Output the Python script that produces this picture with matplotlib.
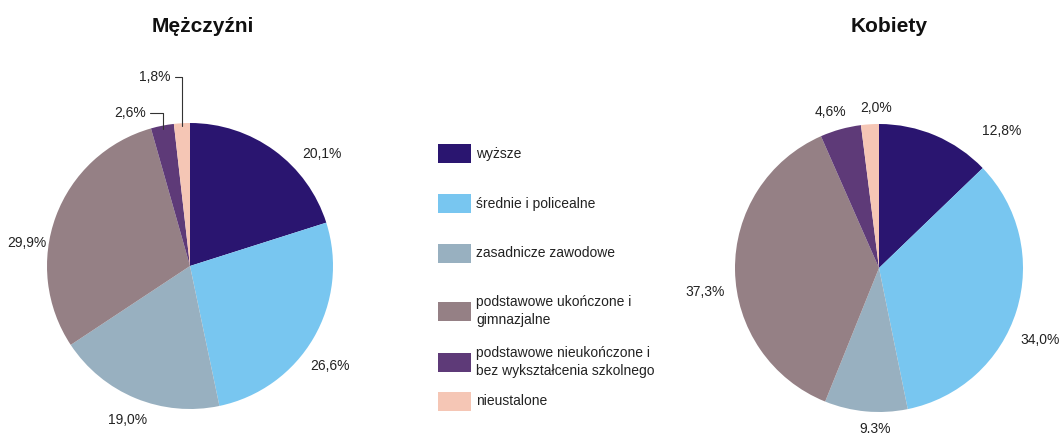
import matplotlib
matplotlib.use("Agg")
import matplotlib.pyplot as plt
import numpy as np
from matplotlib.patches import Rectangle

plt.rcParams["font.family"] = ["Liberation Sans", "DejaVu Sans"]

categories = [
    "wyższe",
    "średnie i policealne",
    "zasadnicze zawodowe",
    "podstawowe ukończone i\ngimnazjalne",
    "podstawowe nieukończone i\nbez wykształcenia szkolnego",
    "nieustalone",
]
men_values = [20.1, 26.6, 19.0, 29.9, 2.6, 1.8]
women_values = [12.8, 34.0, 9.3, 37.3, 4.6, 2.0]
men_labels = ["20,1%", "26,6%", "19,0%", "29,9%", "2,6%", "1,8%"]
women_labels = ["12,8%", "34,0%", "9.3%", "37,3%", "4,6%", "2,0%"]
colors = ["#2a1570", "#78c6f0", "#98b0c0", "#958085", "#5e3a78", "#f5c6b5"]

# label positions in pie units (radius = 1)
men_label_pos = [(0.92, 0.78), (0.98, -0.70), (-0.44, -1.08), (-1.14, 0.16), (-0.42, 1.07), (-0.245, 1.32)]
women_label_pos = [(0.85, 0.95), (1.12, -0.50), (-0.03, -1.12), (-1.21, -0.17), (-0.34, 1.08), (-0.02, 1.11)]
men_leaders = [False, False, False, False, True, True]

W, H = 1063, 436
fig = plt.figure(figsize=(W / 100, H / 100), dpi=100)


def pie_axes(cx, cy, r, lim=1.45):
    half = r * lim
    ax = fig.add_axes([(cx - half) / W, (H - cy - half) / H, 2 * half / W, 2 * half / H])
    return ax, lim


def draw_pie(cx, cy, r, values, labels, label_pos, leaders, title, title_x):
    ax, lim = pie_axes(cx, cy, r)
    wedges, _ = ax.pie(values, colors=colors, startangle=90, counterclock=False,
                       wedgeprops=dict(linewidth=0))
    ax.set_xlim(-lim, lim)
    ax.set_ylim(-lim, lim)
    ax.set_aspect("equal")
    ax.axis("off")
    for w, lab, (lx, ly), lead in zip(wedges, labels, label_pos, leaders):
        if lead:
            mid = np.deg2rad((w.theta1 + w.theta2) / 2)
            ax.annotate(lab, xy=(np.cos(mid) * 0.98, np.sin(mid) * 0.98), xytext=(lx, ly),
                        ha="center", va="center", fontsize=10, color="#222222",
                        arrowprops=dict(arrowstyle="-", color="#333333", lw=0.8,
                                        shrinkA=1, shrinkB=0,
                                        connectionstyle="angle,angleA=0,angleB=90,rad=0"))
        else:
            ax.text(lx, ly, lab, ha="center", va="center", fontsize=10, color="#222222")
    fig.text(title_x / W, 1 - 32 / H, title, ha="center", va="baseline", fontsize=15,
             fontweight="bold", color="#111111")


draw_pie(190, 266, 143, men_values, men_labels, men_label_pos, men_leaders, "Mężczyźni", 203)
draw_pie(879, 268, 144, women_values, women_labels, women_label_pos, [False] * 6, "Kobiety", 889)

# legend
legend_y = [154, 204, 253, 311, 362, 401]
for cat, col, y in zip(categories, colors, legend_y):
    fig.add_artist(Rectangle((438 / W, 1 - (y + 9.5) / H), 33 / W, 19 / H,
                             transform=fig.transFigure, facecolor=col, edgecolor="none"))
    fig.text(476 / W, 1 - y / H, cat, ha="left", va="center", fontsize=10,
             color="#222222", linespacing=1.3)

fig.savefig("out.png", dpi=100)
